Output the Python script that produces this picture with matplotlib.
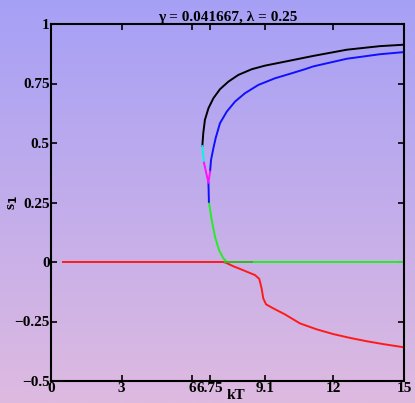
import numpy as np
import matplotlib.pyplot as plt

# values
black_x = [6.43, 6.47, 6.54, 6.69, 6.90, 7.18, 7.54, 7.96, 8.53, 9.09, 9.80, 10.65,
           11.15, 12.57, 13.98, 15.0]
black_y = [0.487, 0.541, 0.597, 0.646, 0.688, 0.726, 0.758, 0.786, 0.810, 0.825, 0.839,
           0.856, 0.866, 0.892, 0.907, 0.913]

cyan_x = [6.43, 6.50]
cyan_y = [0.487, 0.417]

magenta_x = [6.50, 6.69, 6.76]
magenta_y = [0.417, 0.333, 0.380]

blue_x = [6.76, 6.80, 6.90, 7.00, 7.18, 7.47, 7.82, 8.24, 8.81, 9.52, 10.23, 10.79,
          11.15, 12.57, 13.98, 15.0]
blue_y = [0.380, 0.429, 0.478, 0.522, 0.583, 0.632, 0.674, 0.709, 0.744, 0.772, 0.793,
          0.810, 0.822, 0.854, 0.873, 0.882]

blue_low_x = [6.69, 6.71]
blue_low_y = [0.333, 0.253]

green_x = [6.71, 6.83, 6.97, 7.14, 7.32, 7.47, 15.0]
green_y = [0.253, 0.176, 0.106, 0.050, 0.016, 0.0, 0.0]
dkgreen_x = [7.40, 8.53]
dkgreen_y = [0.0, 0.0]

red_x = [0.51, 7.32, 7.45, 7.75, 8.03, 8.30, 8.67, 8.85, 8.95, 9.02, 9.14, 9.45, 9.94,
         10.58, 11.29, 12.0, 12.71, 13.42, 14.12, 14.97]
red_y = [0.0, 0.0, -0.004, -0.018, -0.029, -0.040, -0.055, -0.071, -0.111, -0.153, -0.178,
         -0.195, -0.220, -0.258, -0.283, -0.303, -0.319, -0.333, -0.345, -0.358]

xticks = [0, 3, 6, 6.75, 9.1, 12, 15]
xlabels = ['0', '3', '6', '6.75', '9.1', '12', '15']
yticks = [-0.5, -0.25, 0, 0.25, 0.5, 0.75, 1]
ylabels = ['\u22120.5', '\u22120.25', '0', '0.25', '0.5', '0.75', '1']

plt.rcParams['font.family'] = ['Liberation Serif', 'DejaVu Serif']
plt.rcParams['font.weight'] = 'bold'

fig = plt.figure(figsize=(4.15, 4.03), dpi=100)

# background gradient over the whole figure
bg = fig.add_axes([0, 0, 1, 1], zorder=0)
top = np.array([166, 160, 246]) / 255
bot = np.array([222, 186, 224]) / 255
t = np.linspace(0, 1, 256)[:, None]
grad = (top * (1 - t) + bot * t)[:, None, :]
bg.imshow(grad, aspect='auto', extent=[0, 1, 0, 1])
bg.axis('off')

ax = fig.add_axes([51 / 415, 22 / 403, 353 / 415, 357 / 403], zorder=1)
ax.patch.set_alpha(0)

lw = 1.4
ax.plot(red_x, red_y, color='#ff1a1a', lw=lw)
ax.plot(green_x, green_y, color='#22ee22', lw=lw)
ax.plot(dkgreen_x, dkgreen_y, color='#33bb22', lw=lw)
ax.plot(black_x, black_y, color='black', lw=lw)
ax.plot(blue_x, blue_y, color='#1010ff', lw=lw)
ax.plot(blue_low_x, blue_low_y, color='#1010ff', lw=lw)
ax.plot(cyan_x, cyan_y, color='#11eeee', lw=lw)
ax.plot(magenta_x, magenta_y, color='#ff11ff', lw=lw)

ax.set_xlim(0, 15)
ax.set_ylim(-0.5, 1)
ax.set_xticks(xticks)
ax.set_xticklabels(xlabels)
ax.set_yticks(yticks)
ax.set_yticklabels(ylabels)
ax.tick_params(direction='in', top=True, right=True, length=4, width=1.2,
               labelsize=11, pad=1)
for s in ax.spines.values():
    s.set_linewidth(1.5)

ax.set_title('\u03b3 = 0.041667, \u03bb = 0.25', fontsize=11, fontweight='bold', pad=2)
ax.set_xlabel('kT', fontsize=11, fontweight='bold')
ax.xaxis.label.set_va('bottom')
ax.xaxis.set_label_coords(0.524, -0.058)
ax.set_ylabel('s$_\\mathbf{1}$', fontsize=11, fontweight='bold', labelpad=-4)

fig.savefig('out.png', dpi=100)
